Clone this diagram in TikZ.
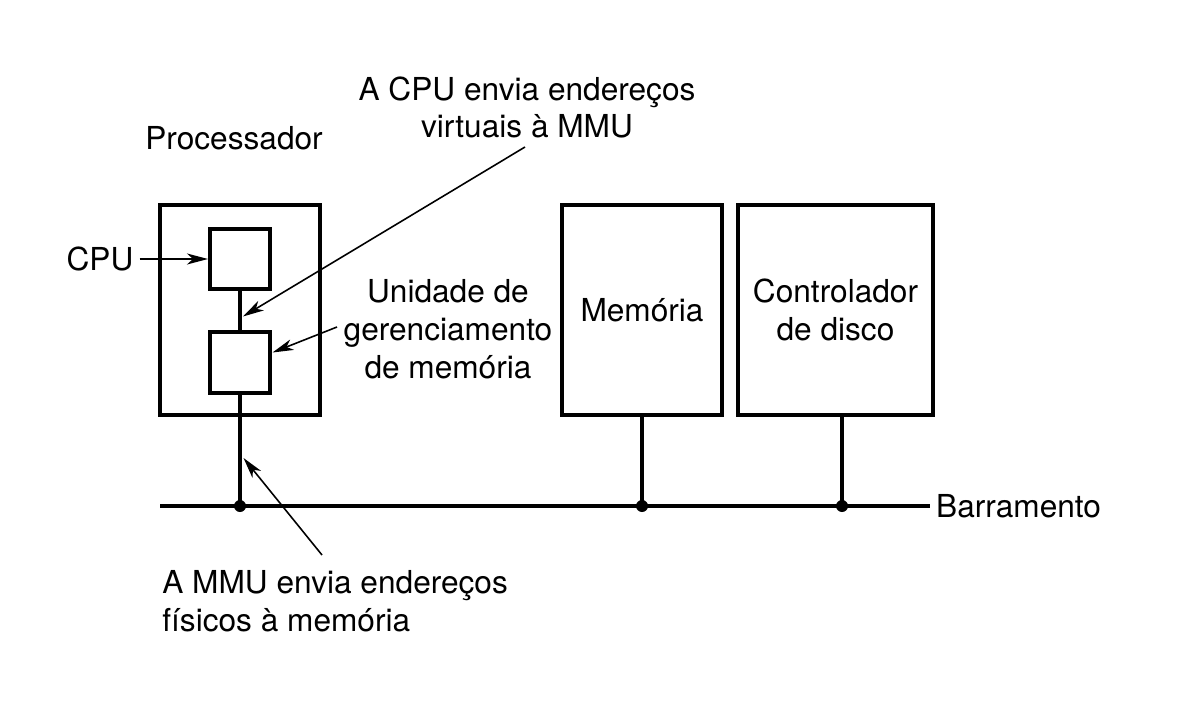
\documentclass[tikz,border=0pt]{standalone}
\usepackage{fontspec}
\setmainfont{TeX Gyre Heros}
\usetikzlibrary{arrows.meta}
\begin{document}
\begin{tikzpicture}[
    box/.style={draw, line width=2.3pt, minimum width=3.2cm, minimum height=4.2cm, inner sep=0pt, align=center},
    unit/.style={draw, line width=2.3pt, minimum width=1.2cm, minimum height=1.21cm, inner sep=0pt},
    wire/.style={line width=2.1pt},
    seta/.style={line width=0.9pt, -{Stealth[length=0.42cm, width=0.22cm, inset=0.12cm]}},
    lbl/.style={align=center, inner sep=0pt},
    font=\fontsize{18}{21.5}\selectfont]
\useasboundingbox (0,0) rectangle (23.68,14.22);
% caixas
\node[box] (proc) at (4.8,8.02) {};
\node[unit] (cpu) at (4.8,9.04) {};
\node[unit] (mmu) at (4.8,6.97) {};
\node[box] (mem) at (12.84,8.02) {Memória};
\node[box, minimum width=3.9cm] (disco) at (16.71,8.02) {Controlador\\de disco};
% barramento
\coordinate (b0) at (3.2,4.1);
\node[anchor=west] (barr) at (18.6,4.1) {Barramento};
\draw[wire] (b0) -- (barr.west);
\draw[wire] (cpu.south) -- (mmu.north);
\draw[wire] (mmu.south) -- (mmu.south |- b0);
\draw[wire] (mem.south) -- (mem.south |- b0);
\coordinate (dd) at ([xshift=0.13cm]disco.south);
\draw[wire] (dd) -- (dd |- b0);
\foreach \p in {mmu.south, mem.south, dd}
  \fill (\p |- b0) circle (0.12);
% textos
\node (tproc) at (4.68,11.46) {Processador};
\node (tcpu) at (2.0,9.04) {CPU};
\node[lbl] (tvirt) at (10.54,12.07) {A CPU envia endereços\\virtuais à MMU};
\node[lbl] (tmmu) at (8.96,7.64) {Unidade de\\gerenciamento\\de memória};
\node[lbl, align=left, anchor=west] (tfis) at (3.24,2.2) {A MMU envia endereços\\físicos à memória};
% setas
\coordinate (cv) at (10.5,11.28);
\coordinate (pv) at (4.86,7.89);
\coordinate (cm) at (6.74,7.68);
\coordinate (pm) at (5.45,7.17);
\coordinate (cf) at (6.44,3.12);
\coordinate (pf) at (4.87,5.06);
\draw[seta] (tcpu) -- (cpu);
\draw[seta] (cv) -- (pv);
\draw[seta] (cm) -- (pm);
\draw[seta] (cf) -- (pf);
\end{tikzpicture}
\end{document}
